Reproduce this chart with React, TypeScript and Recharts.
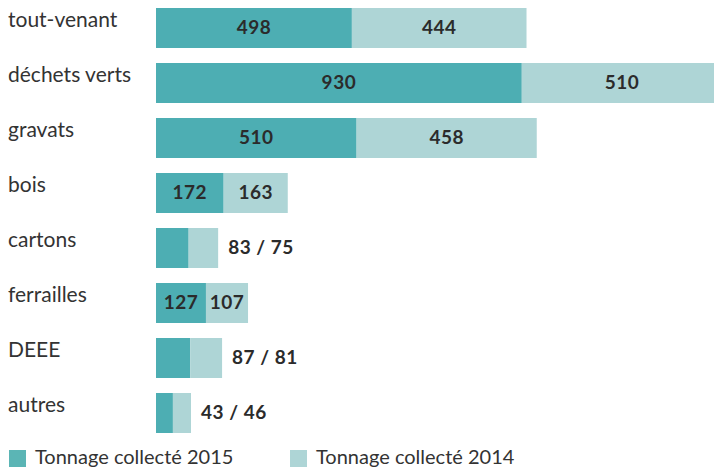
import { BarChart, Bar, XAxis, YAxis, LabelList, Legend } from 'recharts'

const categories = ['tout-venant', 'déchets verts', 'gravats', 'bois', 'cartons', 'ferrailles', 'DEEE', 'autres']
const tonnage2015 = [498, 930, 510, 172, 83, 127, 87, 43]
const tonnage2014 = [444, 510, 458, 163, 75, 107, 81, 46]
const seriesNames = ['Tonnage collecté 2015', 'Tonnage collecté 2014']

const DARK = '#4DAEB3'
const LIGHT = '#AED5D6'
const INK = '#2B2B2B'
const FONT = 'Lato, "Open Sans", sans-serif'

const data = categories.map((name, i) => ({ name, y2015: tonnage2015[i], y2014: tonnage2014[i] }))

// small bars get a "a / b" label after the bar instead of values inside
const isSmall = (i: number) => tonnage2015[i] + tonnage2014[i] < 200

function CategoryTick(props: any) {
  const { y, payload } = props
  return (
    <text x={8} y={y - 1} fill="#333" fontSize={21} fontFamily={FONT} textAnchor="start">
      {payload.value}
    </text>
  )
}

function innerLabel(props: any) {
  const { x, y, width, height, index, value } = props
  if (isSmall(index)) return null
  return (
    <text x={x + width / 2} y={y + height / 2 - 1.5} textAnchor="middle" dominantBaseline="central"
      fill={INK} fontSize={19} fontWeight={700} fontFamily={FONT} letterSpacing={0.5}>
      {value}
    </text>
  )
}

function label2014(props: any) {
  const { x, y, width, height, index, value } = props
  if (!isSmall(index)) return innerLabel(props)
  return (
    <text x={x + width + 10} y={y + height / 2 - 1.5} textAnchor="start" dominantBaseline="central"
      fill={INK} fontSize={19} fontWeight={700} fontFamily={FONT} letterSpacing={0.5}>
      {`${tonnage2015[index]} / ${value}`}
    </text>
  )
}

function LegendContent() {
  const items = [
    { left: 9, color: '#5BB5B5', text: seriesNames[0] },
    { left: 290, color: LIGHT, text: seriesNames[1] },
  ]
  return (
    <div style={{ position: 'relative', height: 28, width: 714 }}>
      {items.map((it) => (
        <div key={it.text} style={{ position: 'absolute', left: it.left, top: 9, display: 'flex', alignItems: 'flex-start' }}>
          <div style={{ width: 17, height: 17, marginTop: 1, background: it.color }} />
          <span style={{ marginLeft: 9, marginTop: -5, fontSize: 20, lineHeight: '24px', color: '#333', fontFamily: FONT, whiteSpace: 'nowrap' }}>
            {it.text}
          </span>
        </div>
      ))}
    </div>
  )
}

export default function App() {
  return (
    <div style={{ position: 'absolute', left: 0, top: 0, width: 714, height: 468, overflow: 'hidden', background: '#fff' }}>
      <BarChart width={746} height={468} data={data} layout="vertical" barSize={40}
        margin={{ top: 0, right: 0, left: 0, bottom: 0 }}>
        <XAxis type="number" domain={[0, 1500]} hide />
        <YAxis type="category" dataKey="name" width={156} axisLine={false} tickLine={false} tick={<CategoryTick />} />
        <Legend verticalAlign="bottom" align="left" content={<LegendContent />} wrapperStyle={{ left: 0, width: 714 }} />
        <Bar dataKey="y2015" stackId="a" fill={DARK} isAnimationActive={false}>
          <LabelList dataKey="y2015" content={innerLabel} />
        </Bar>
        <Bar dataKey="y2014" stackId="a" fill={LIGHT} isAnimationActive={false}>
          <LabelList dataKey="y2014" content={label2014} />
        </Bar>
      </BarChart>
    </div>
  )
}
